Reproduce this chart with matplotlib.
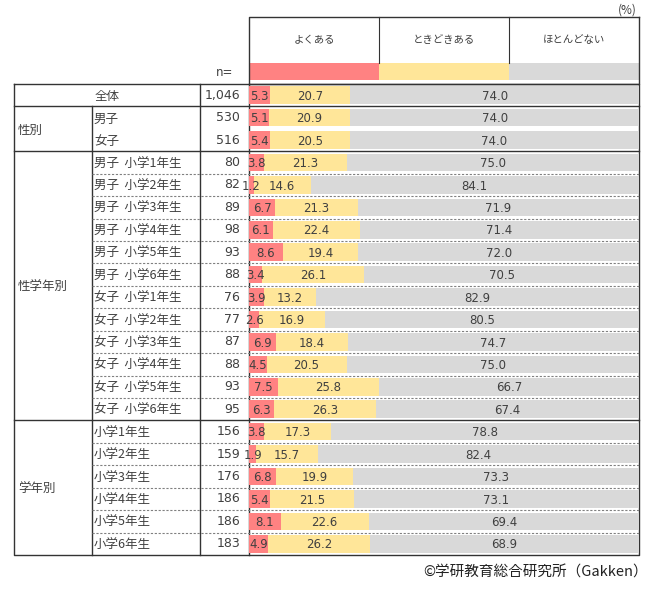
import matplotlib
matplotlib.use("Agg")
import matplotlib.pyplot as plt
import numpy as np

plt.rcParams['font.family'] = ['Noto Sans CJK JP', 'DejaVu Sans']
NUM_FONT = ['DejaVu Sans', 'Noto Sans CJK JP']

# ---- data -------------------------------------------------------------
categories = ['よくある', 'ときどきある', 'ほとんどない']
colors = ['#FF8282', '#FFE699', '#D9D9D9']

group_names = ['全体', '性別', '性学年別', '学年別']
group_sizes = [1, 2, 12, 6]

row_labels = [
    '全体',
    '男子', '女子',
    '男子  小学1年生', '男子  小学2年生', '男子  小学3年生', '男子  小学4年生',
    '男子  小学5年生', '男子  小学6年生', '女子  小学1年生', '女子  小学2年生',
    '女子  小学3年生', '女子  小学4年生', '女子  小学5年生', '女子  小学6年生',
    '小学1年生', '小学2年生', '小学3年生', '小学4年生', '小学5年生', '小学6年生',
]
n_values = ['1,046', '530', '516',
            '80', '82', '89', '98', '93', '88', '76', '77', '87', '88', '93', '95',
            '156', '159', '176', '186', '186', '183']

often = [5.3, 5.1, 5.4,
         3.8, 1.2, 6.7, 6.1, 8.6, 3.4, 3.9, 2.6, 6.9, 4.5, 7.5, 6.3,
         3.8, 1.9, 6.8, 5.4, 8.1, 4.9]
sometimes = [20.7, 20.9, 20.5,
             21.3, 14.6, 21.3, 22.4, 19.4, 26.1, 13.2, 16.9, 18.4, 20.5, 25.8, 26.3,
             17.3, 15.7, 19.9, 21.5, 22.6, 26.2]
rarely = [74.0, 74.0, 74.0,
          75.0, 84.1, 71.9, 71.4, 72.0, 70.5, 82.9, 80.5, 74.7, 75.0, 66.7, 67.4,
          78.8, 82.4, 73.3, 73.1, 69.4, 68.9]

# ---- layout (pixels) ----------------------------------------------------
W, H = 670, 592
x_left, x_sub, x_n, x_bar, x_right = 14, 92, 200, 249, 639
y_top, y_bottom = 84, 555
n_rows = len(row_labels)
row_h = (y_bottom - y_top) / n_rows
jp_dy = 1.5  # CJK glyphs sit a little high with va='center'
txt = '#404040'
line_c = '#333333'

fig = plt.figure(figsize=(W / 100, H / 100), dpi=100)
ax0 = fig.add_axes([0, 0, 1, 1])
ax0.set_xlim(0, W)
ax0.set_ylim(H, 0)
ax0.axis('off')

# header box with legend colours
ax0.text(637, 10, '(%)', ha='right', va='center', fontsize=8.5, color=txt)
hx = np.linspace(x_bar, x_right, len(categories) + 1)
ax0.plot([x_bar, x_right, x_right], [y_top, y_top, 17], color=line_c, lw=1)
ax0.plot([x_bar, x_bar, x_right], [y_top, 17, 17], color=line_c, lw=1)
for i, cat in enumerate(categories):
    if i > 0:
        ax0.plot([hx[i], hx[i]], [17, 63], color=line_c, lw=0.8)
    ax0.text((hx[i] + hx[i + 1]) / 2, 39 + jp_dy, cat, ha='center',
             va='center', fontsize=7.5, color=txt)
    ax0.add_patch(plt.Rectangle((hx[i], 63), hx[i + 1] - hx[i], 17,
                                color=colors[i], lw=0))
ax0.text(225, 73, 'n=', ha='center', va='center', fontsize=8.5, color=txt,
         family=NUM_FONT)

# table frame
ax0.plot([x_left, x_right, x_right, x_left, x_left],
         [y_top, y_top, y_bottom, y_bottom, y_top], color=line_c, lw=1)
for x in (x_n, x_bar):
    ax0.plot([x, x], [y_top, y_bottom], color=line_c, lw=1)
ax0.plot([x_sub, x_sub], [y_top + row_h, y_bottom], color=line_c, lw=1)

row = 0
for g, size in zip(group_names, group_sizes):
    y0 = y_top + row * row_h
    y1 = y0 + size * row_h
    if row > 0:
        ax0.plot([x_left, x_right], [y0, y0], color=line_c, lw=1)
    if size == 1:
        ax0.text((x_left + x_n) / 2, (y0 + y1) / 2 + jp_dy, row_labels[row],
                 ha='center', va='center', fontsize=9, color=txt)
    else:
        ax0.text(x_left + 4, (y0 + y1) / 2 + jp_dy, g, ha='left',
                 va='center', fontsize=9, color=txt)
        for k in range(size):
            yc = y0 + (k + 0.5) * row_h
            ax0.text(x_sub + 2, yc + jp_dy, row_labels[row + k], ha='left',
                     va='center', fontsize=9, color=txt)
            if k > 0 and size > 2:
                yl = y0 + k * row_h
                ax0.plot([x_sub, x_right], [yl, yl], color='#808080',
                         lw=0.8, ls=(0, (2, 1.5)))
    for k in range(size):
        yc = y0 + (k + 0.5) * row_h
        ax0.text(x_bar - 9, yc, n_values[row + k], ha='right', va='center',
                 fontsize=9, color=txt, family=NUM_FONT)
    row += size

ax0.text(648, 573, '©学研教育総合研究所（Gakken）', ha='right', va='center',
         fontsize=10.5, color='#222222')

# ---- bars ---------------------------------------------------------------
ax = fig.add_axes([x_bar / W, 1 - y_bottom / H, (x_right - x_bar) / W,
                   (y_bottom - y_top) / H])
ax.set_xlim(0, 100)
ax.set_ylim(n_rows - 0.5, -0.5)
ax.axis('off')
ax.patch.set_alpha(0)

ypos = np.arange(n_rows)
left = np.zeros(n_rows)
for vals, col in zip([often, sometimes, rarely], colors):
    vals = np.array(vals)
    ax.barh(ypos, vals, left=left, height=0.78, color=col, lw=0)
    for y, l, v in zip(ypos, left, vals):
        ax.text(l + v / 2, y + 0.05, f'{v:.1f}', ha='center', va='center',
                fontsize=8.5, color=txt, clip_on=False, family=NUM_FONT)
    left = left + vals

fig.savefig('out.png', dpi=100)
